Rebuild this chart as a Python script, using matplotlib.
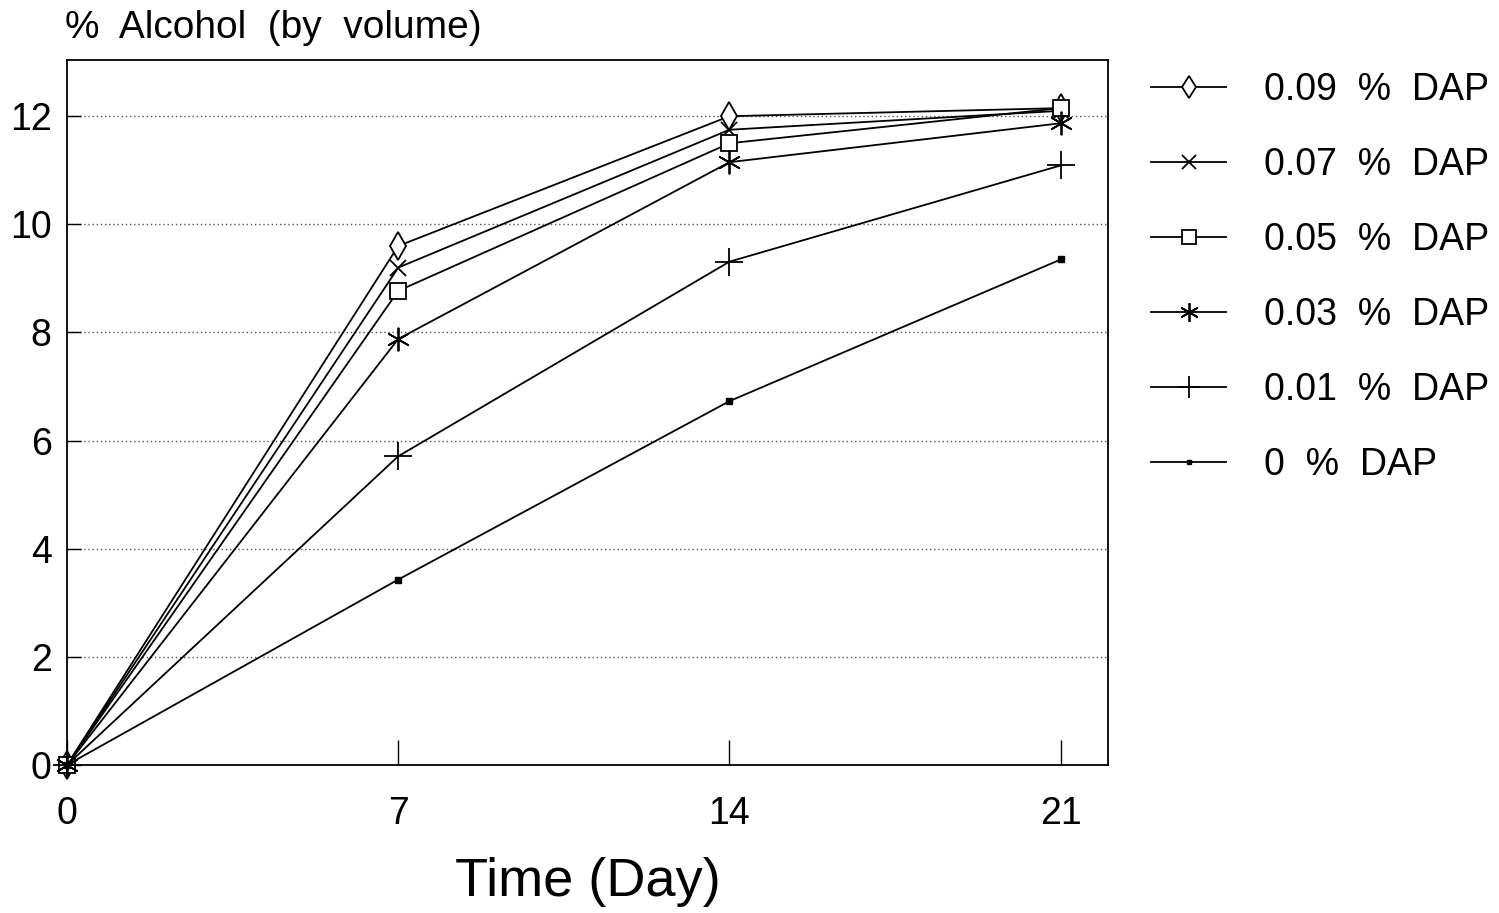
import matplotlib
matplotlib.use("Agg")
import matplotlib.pyplot as plt

plt.rcParams['font.family'] = ['Liberation Sans', 'DejaVu Sans']

days = [0, 7, 14, 21]
dap_009 = [0, 9.6, 12.0, 12.15]
dap_007 = [0, 9.2, 11.75, 12.1]
dap_005 = [0, 8.77, 11.5, 12.15]
dap_003 = [0, 7.88, 11.15, 11.87]
dap_001 = [0, 5.71, 9.31, 11.09]
dap_000 = [0, 3.43, 6.73, 9.35]
labels = ["0.09  %  DAP", "0.07  %  DAP", "0.05  %  DAP", "0.03  %  DAP", "0.01  %  DAP", "0  %  DAP"]
xticks = [0, 7, 14, 21]
yticks = [0, 2, 4, 6, 8, 10, 12]

fig = plt.figure(figsize=(14.99, 9.13), dpi=100)
ax = fig.add_axes([67/1499, 1-765/913, (1108-67)/1499, (765-60)/913])

series = [dap_009, dap_007, dap_005, dap_003, dap_001, dap_000]
styles = [
    dict(marker='d', ms=14, mfc='white', mew=1.3),
    dict(marker='x', ms=12, mew=1.3),
    dict(marker='s', ms=12, mfc='white', mew=1.3),
    dict(marker=(6, 2, 0), ms=17, mew=1.3),
    dict(marker='+', ms=20, mew=1.3),
    dict(marker='s', ms=4, mew=1.0),
]
for vals, lab, st in zip(series, labels, styles):
    ax.plot(days, vals, color='black', lw=1.3, label=lab, clip_on=False, **st)

ax.set_xlim(0, 22)
ax.set_ylim(0, 13.04)
ax.set_xticks(xticks)
ax.set_yticks(yticks)
ax.tick_params(axis='x', direction='in', length=18, width=1, labelsize=27, pad=22)
ax.tick_params(axis='y', direction='in', length=10, width=1, labelsize=27, pad=11)
for yv in yticks[1:]:
    ax.axhline(yv, color='#555555', lw=1.0, ls=(0, (1, 2)), zorder=0)
for s in ax.spines.values():
    s.set_linewidth(1.3)

ax.set_xlabel("Time (Day)", fontsize=39, labelpad=18)
fig.text(65/1499, 1-28/913, "%  Alcohol  (by  volume)", fontsize=28, va='center', ha='left')

leg = ax.legend(loc='upper left', bbox_to_anchor=(1.009, 1.031), frameon=False,
                fontsize=27, handlelength=2.0, handletextpad=1.0, labelspacing=1.04,
                markerscale=0.8)

fig.savefig("out.png", dpi=100)
